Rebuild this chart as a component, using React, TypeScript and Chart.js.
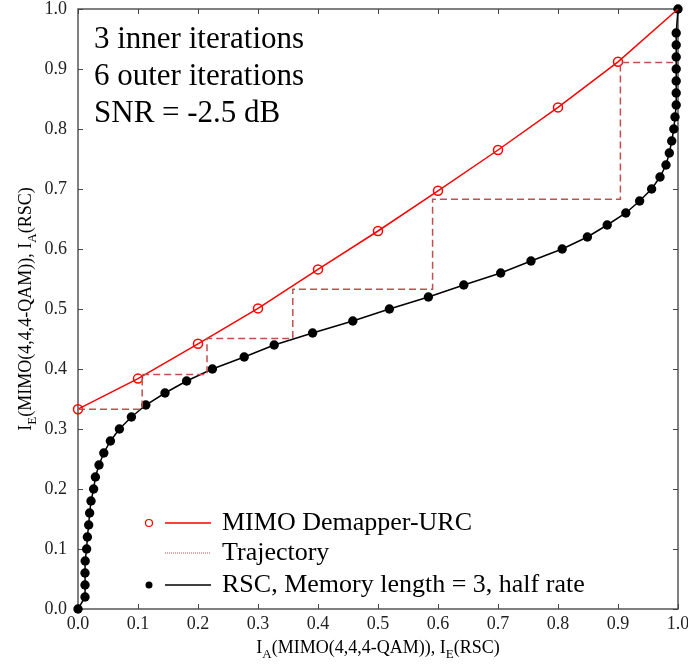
import React, { useEffect, useRef } from "react";
import { Chart, registerables } from "chart.js";

Chart.register(...registerables);

// ---- data ----
const mimoX = [0.0, 0.1, 0.2, 0.3, 0.4, 0.5, 0.6, 0.7, 0.8, 0.9, 1.0];
const mimoY = [0.333, 0.384, 0.442, 0.501, 0.566, 0.63, 0.697, 0.765, 0.836, 0.912, 1.0];

const rscX = [
  0.0, 0.0117, 0.0117, 0.0117, 0.012, 0.0144, 0.0156, 0.0178, 0.0194, 0.0217,
  0.026, 0.029, 0.035, 0.043, 0.054, 0.069, 0.089, 0.113, 0.145, 0.181,
  0.224, 0.277, 0.327, 0.391, 0.458, 0.519, 0.584, 0.643, 0.7045, 0.755,
  0.807, 0.849, 0.882, 0.913, 0.936, 0.956, 0.97, 0.98, 0.9855, 0.9895,
  0.993, 0.995, 0.997, 0.997, 0.997, 0.997, 0.997, 0.997, 0.997, 1.0,
];
const rscY = [
  0.0, 0.02, 0.04, 0.06, 0.08, 0.1, 0.12, 0.14, 0.16, 0.18,
  0.2, 0.22, 0.24, 0.26, 0.28, 0.3, 0.32, 0.34, 0.36, 0.38,
  0.4, 0.42, 0.44, 0.46, 0.48, 0.5, 0.52, 0.54, 0.56, 0.58,
  0.6, 0.62, 0.64, 0.66, 0.68, 0.7, 0.72, 0.74, 0.76, 0.78,
  0.8, 0.82, 0.84, 0.86, 0.88, 0.9, 0.92, 0.94, 0.96, 1.0,
];

const trajX = [0.0, 0.107, 0.107, 0.215, 0.215, 0.358, 0.358, 0.591, 0.591, 0.904, 0.904, 1.0];
const trajY = [0.333, 0.333, 0.391, 0.391, 0.451, 0.451, 0.533, 0.533, 0.683, 0.683, 0.911, 0.911];

const annotationLines = ["3 inner iterations", "6 outer iterations", "SNR = -2.5 dB"];
const legendLabels = ["MIMO Demapper-URC", "Trajectory", "RSC, Memory length = 3, half rate"];

const SERIF = "'Liberation Serif', 'Times New Roman', serif";
const RED = "#ff0000";
const TRAJ = "#c0504d";

type Seg = { t: string; sub?: boolean };
const xTitle: Seg[] = [
  { t: "I" }, { t: "A", sub: true }, { t: "(MIMO(4,4,4-QAM)), I" }, { t: "E", sub: true }, { t: "(RSC)" },
];
const yTitle: Seg[] = [
  { t: "I" }, { t: "E", sub: true }, { t: "(MIMO(4,4,4-QAM)), I" }, { t: "A", sub: true }, { t: "(RSC)" },
];

function drawRich(ctx: CanvasRenderingContext2D, segs: Seg[], cx: number, by: number, size: number, subSize: number) {
  const widths = segs.map((s) => {
    ctx.font = `${s.sub ? subSize : size}px ${SERIF}`;
    return ctx.measureText(s.t).width;
  });
  const total = widths.reduce((a, b) => a + b, 0);
  let x = cx - total / 2;
  ctx.textAlign = "left";
  ctx.textBaseline = "alphabetic";
  segs.forEach((s, i) => {
    ctx.font = `${s.sub ? subSize : size}px ${SERIF}`;
    ctx.fillText(s.t, x, by + (s.sub ? 5 : 0));
    x += widths[i];
  });
}

const framePlugin = {
  id: "frame",
  beforeDatasetsDraw(chart: any) {
    const { ctx, chartArea } = chart;
    const { left, right, top, bottom } = chartArea;
    const xs = chart.scales.x;
    const ys = chart.scales.y;
    ctx.save();
    ctx.lineWidth = 1.5;
    ctx.strokeStyle = "#555";
    ctx.strokeRect(left, top, right - left, bottom - top);
    ctx.lineWidth = 1;
    ctx.strokeStyle = "#444";
    ctx.beginPath();
    xs.ticks.forEach((t: any) => {
      const p = Math.round(xs.getPixelForValue(t.value)) + 0.5;
      ctx.moveTo(p, bottom);
      ctx.lineTo(p, bottom - 5);
      ctx.moveTo(p, top);
      ctx.lineTo(p, top + 5);
    });
    ys.ticks.forEach((t: any) => {
      const p = Math.round(ys.getPixelForValue(t.value)) + 0.5;
      ctx.moveTo(left, p);
      ctx.lineTo(left + 5, p);
      ctx.moveTo(right, p);
      ctx.lineTo(right - 5, p);
    });
    ctx.stroke();
    ctx.restore();
  },
  afterDraw(chart: any) {
    const { ctx, chartArea } = chart;
    const { left, right, top, bottom } = chartArea;
    ctx.save();
    ctx.fillStyle = "#000";
    // annotation
    ctx.font = `31px ${SERIF}`;
    ctx.textAlign = "left";
    ctx.textBaseline = "alphabetic";
    annotationLines.forEach((s, i) => {
      ctx.fillText(s, left + 16, top + 39 + i * 37);
    });
    // legend
    const lx = left + 71;
    const l1 = left + 87;
    const l2 = left + 133;
    const tx = left + 144;
    const rows = [bottom - 86, bottom - 56, bottom - 24];
    // row 1
    ctx.strokeStyle = RED;
    ctx.lineWidth = 1.2;
    ctx.beginPath();
    ctx.arc(lx, rows[0], 3.5, 0, Math.PI * 2);
    ctx.stroke();
    ctx.lineWidth = 1.5;
    ctx.beginPath();
    ctx.moveTo(l1, rows[0]);
    ctx.lineTo(l2, rows[0]);
    ctx.stroke();
    // row 2
    ctx.strokeStyle = TRAJ;
    ctx.lineWidth = 1;
    ctx.setLineDash([1, 1]);
    ctx.beginPath();
    ctx.moveTo(l1, rows[1]);
    ctx.lineTo(l2, rows[1]);
    ctx.stroke();
    ctx.setLineDash([]);
    // row 3
    ctx.fillStyle = "#000";
    ctx.beginPath();
    ctx.arc(lx, rows[2], 3.5, 0, Math.PI * 2);
    ctx.fill();
    ctx.strokeStyle = "#000";
    ctx.lineWidth = 1.5;
    ctx.beginPath();
    ctx.moveTo(l1, rows[2]);
    ctx.lineTo(l2, rows[2]);
    ctx.stroke();
    ctx.font = `26px ${SERIF}`;
    ctx.textAlign = "left";
    ctx.textBaseline = "alphabetic";
    legendLabels.forEach((s, i) => {
      ctx.fillText(s, tx, rows[i] + 7);
    });
    // axis titles
    ctx.fillStyle = "#000";
    drawRich(ctx, xTitle, (left + right) / 2, bottom + 44, 18, 13);
    ctx.save();
    ctx.translate(31, (top + bottom) / 2);
    ctx.rotate(-Math.PI / 2);
    drawRich(ctx, yTitle, 0, 0, 18, 13);
    ctx.restore();
    ctx.restore();
  },
};

export default function App() {
  const ref = useRef<HTMLCanvasElement | null>(null);
  useEffect(() => {
    if (!ref.current) return;
    const tickFont = { family: SERIF, size: 18 };
    const chart = new Chart(ref.current, {
      type: "line",
      data: {
        datasets: [
          {
            label: legendLabels[1],
            data: trajX.map((x, i) => ({ x, y: trajY[i] })),
            borderColor: TRAJ,
            borderWidth: 1.5,
            borderDash: [7, 4],
            pointRadius: 0,
            fill: false,
            tension: 0,
            clip: false as any,
          },
          {
            label: legendLabels[0],
            data: mimoX.map((x, i) => ({ x, y: mimoY[i] })),
            borderColor: RED,
            backgroundColor: "rgba(0,0,0,0)",
            borderWidth: 1.5,
            pointRadius: mimoX.map((_, i) => (i === mimoX.length - 1 ? 0 : 4.5)),
            pointBorderColor: RED,
            pointBackgroundColor: "rgba(0,0,0,0)",
            pointBorderWidth: 1.5,
            fill: false,
            tension: 0,
            clip: false as any,
          },
          {
            label: legendLabels[2],
            data: rscX.map((x, i) => ({ x, y: rscY[i] })),
            borderColor: "#000",
            backgroundColor: "#000",
            borderWidth: 1.5,
            pointRadius: 4.7,
            pointBorderWidth: 0,
            pointBackgroundColor: "#000",
            fill: false,
            tension: 0,
            clip: false as any,
          },
        ],
      },
      options: {
        responsive: false,
        devicePixelRatio: 1,
        animation: false,
        layout: { padding: { top: 9, right: 10, left: 0, bottom: 0 } },
        plugins: { legend: { display: false }, tooltip: { enabled: false } },
        scales: {
          x: {
            type: "linear",
            min: 0,
            max: 1,
            grid: { display: false, drawTicks: false },
            border: { display: false },
            ticks: {
              stepSize: 0.1,
              font: tickFont,
              color: "#222",
              padding: 4,
              maxRotation: 0,
              callback: (v: any) => Number(v).toFixed(1),
            },
            afterFit: (s: any) => {
              s.height = 59;
              s.paddingLeft = 0;
              s.paddingRight = 0;
            },
          },
          y: {
            type: "linear",
            min: 0,
            max: 1,
            grid: { display: false, drawTicks: false },
            border: { display: false },
            ticks: {
              stepSize: 0.1,
              font: tickFont,
              color: "#222",
              padding: 11,
              callback: (v: any) => Number(v).toFixed(1),
            },
            afterFit: (s: any) => {
              s.width = 78;
              s.paddingTop = 0;
              s.paddingBottom = 0;
            },
          },
        },
      },
      plugins: [framePlugin],
    });
    return () => chart.destroy();
  }, []);
  return (
    <div style={{ position: "absolute", left: 0, top: 0, width: 688, height: 668, background: "#fff" }}>
      <canvas ref={ref} width={688} height={668} style={{ display: "block" }} />
    </div>
  );
}
